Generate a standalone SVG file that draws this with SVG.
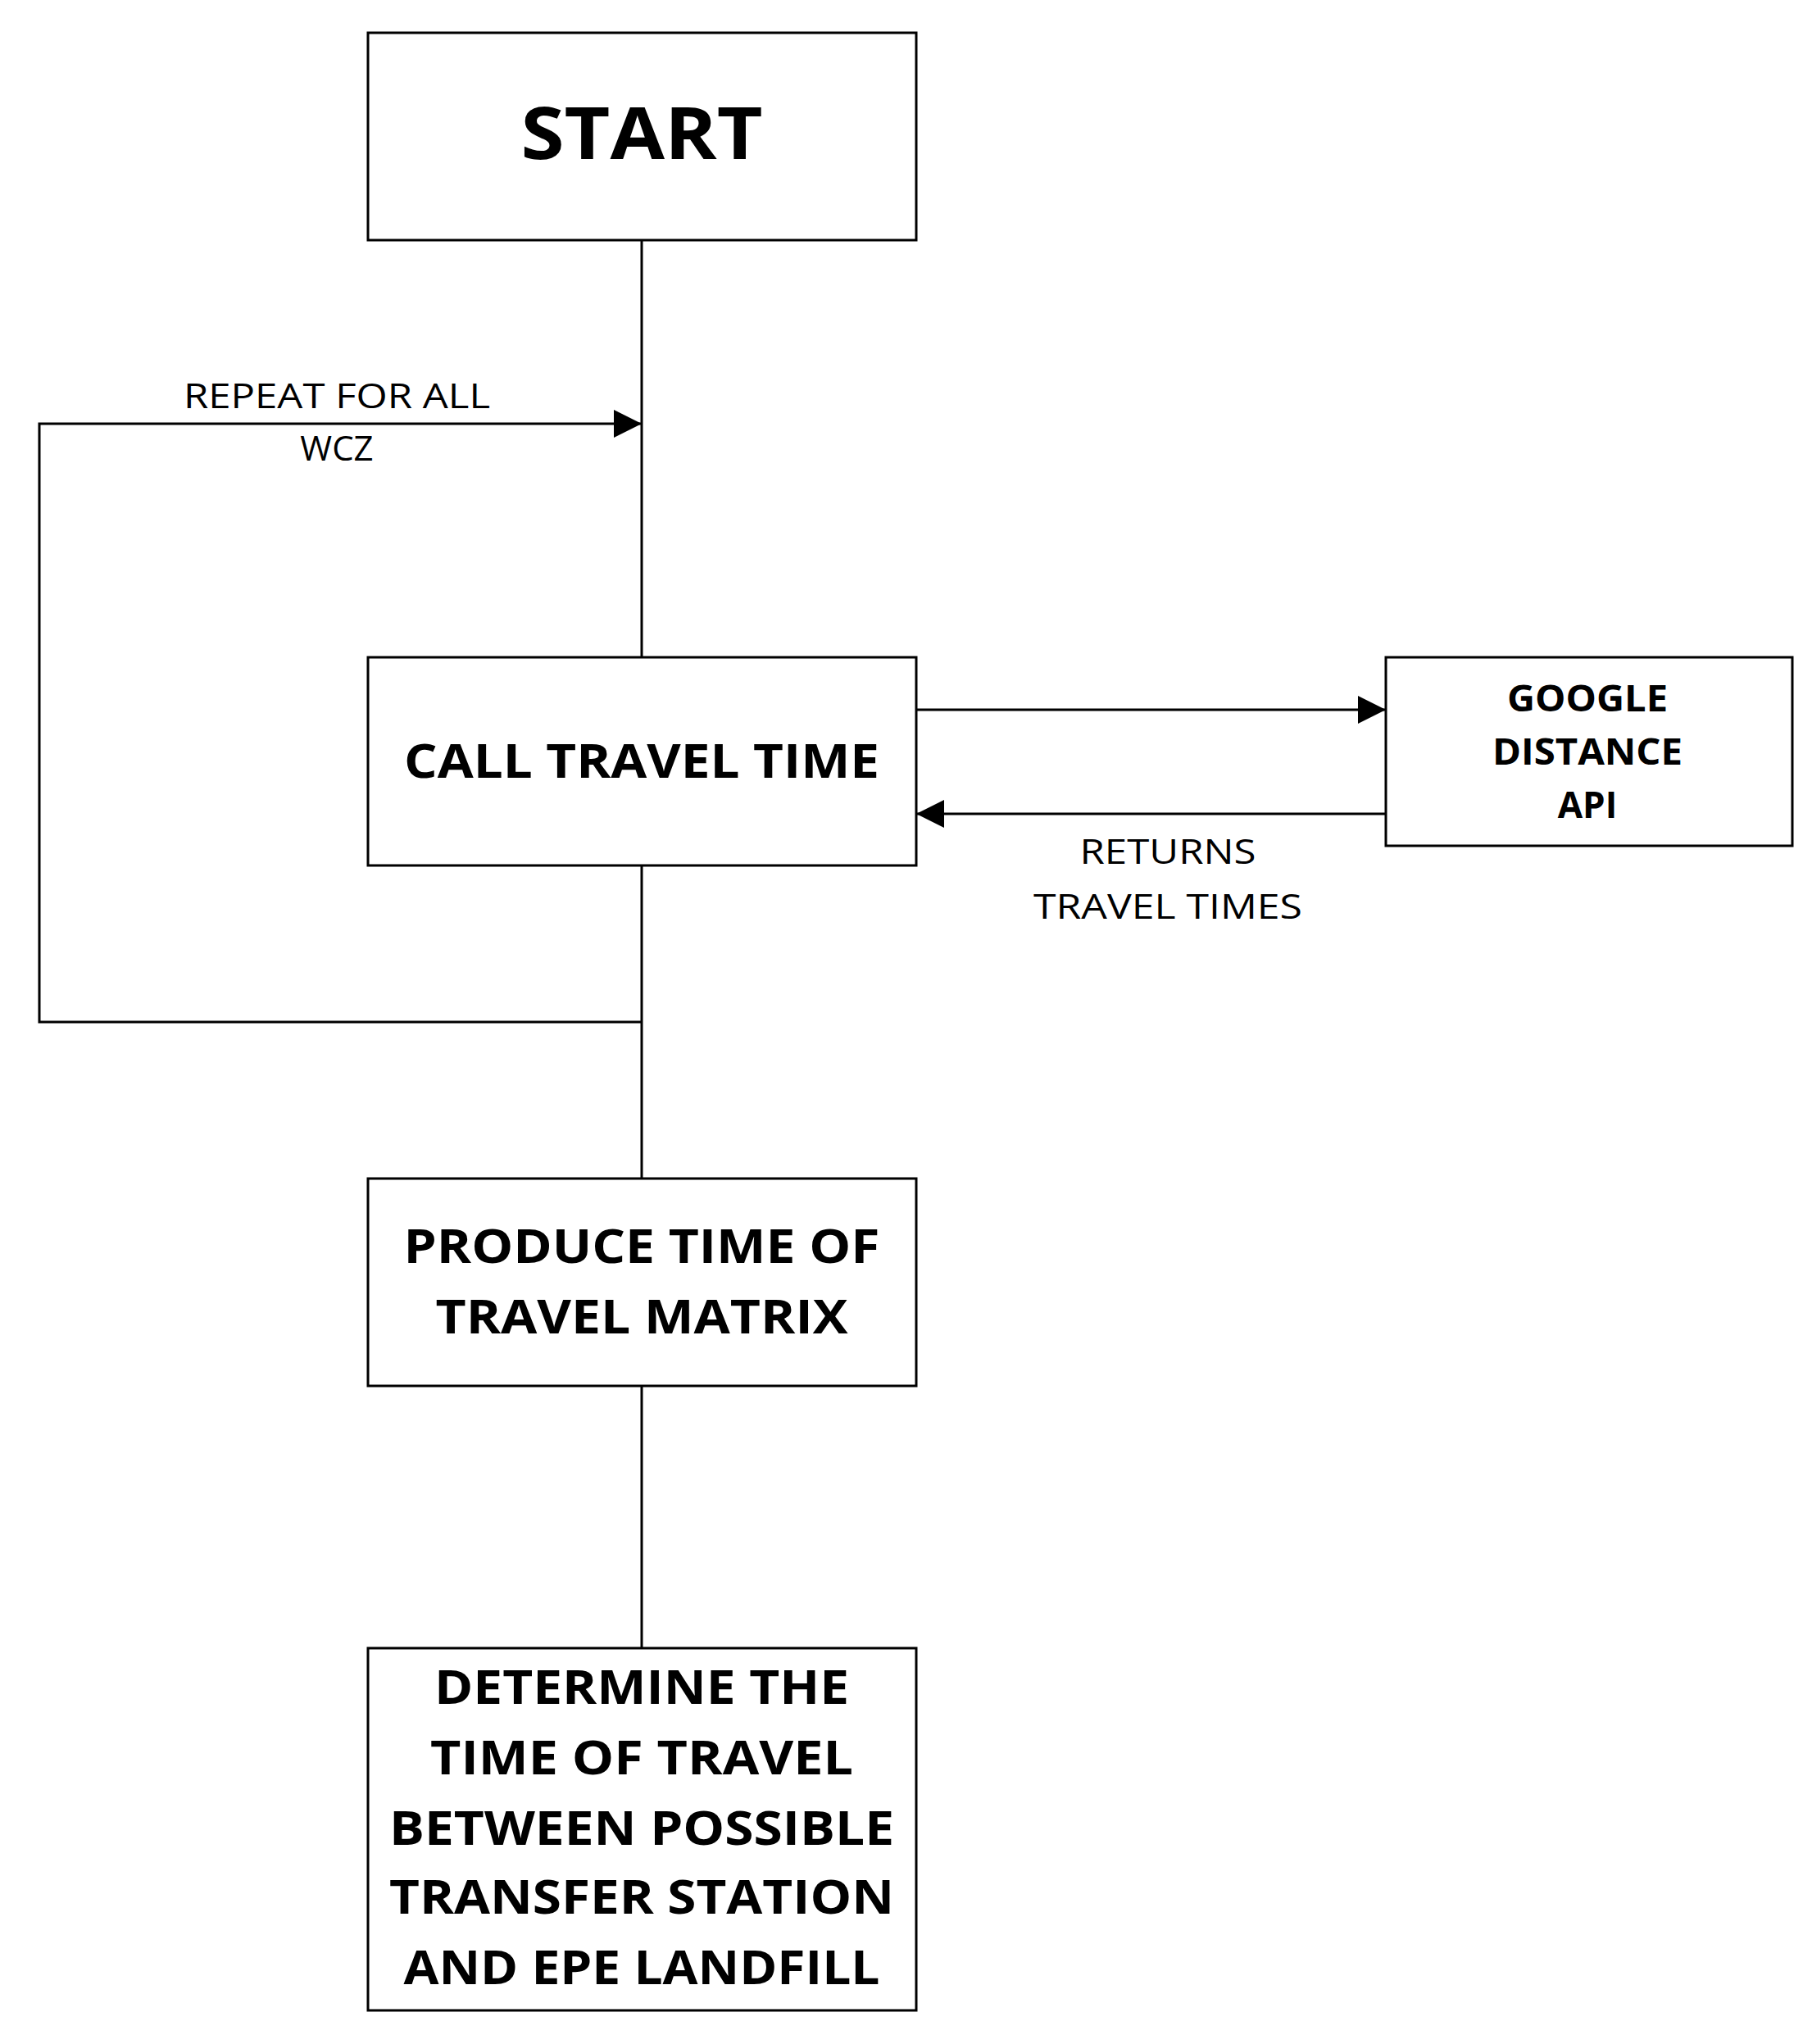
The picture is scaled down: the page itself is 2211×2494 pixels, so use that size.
<svg xmlns="http://www.w3.org/2000/svg" width="2211" height="2494" viewBox="0 0 2211 2494">
<style>
rect{fill:#fff;stroke:#000;stroke-width:3}
.c{fill:none;stroke:#000;stroke-width:3}
text{font-family:"Open Sans","Liberation Sans",sans-serif;text-anchor:middle;fill:#000}
.b{font-weight:bold}
.r{font-size:42px}
</style>
<defs><marker id="a" markerWidth="10" markerHeight="10" refX="9" refY="5" orient="auto" markerUnits="userSpaceOnUse" viewBox="0 0 10 10"><path d="M0,0L10,5L0,10z" fill="#000"/></marker>
<marker id="ah" viewBox="0 0 10 10" refX="10" refY="5" markerWidth="42" markerHeight="34" orient="auto" markerUnits="userSpaceOnUse"><path d="M0,0L10,5L0,10z" fill="#000"/></marker></defs>
<rect width="2211" height="2494" style="stroke:none"/>
<g id="connectors">
<path class="c" d="M783,293V802"/>
<path class="c" d="M783,1056V1438"/>
<path class="c" d="M783,1691V2011"/>
<path class="c" d="M783,1247H48V517H783" marker-end="url(#ah)"/>
<path class="c" d="M1118,866H1691" marker-end="url(#ah)"/>
<path class="c" d="M1691,993H1118" marker-end="url(#ah)"/>
<text class="r" x="411" y="498" textLength="374" lengthAdjust="spacingAndGlyphs">REPEAT FOR ALL</text>
<text class="r" x="411" y="562">WCZ</text>
<text class="r" x="1425" y="1054" textLength="215" lengthAdjust="spacingAndGlyphs">RETURNS</text>
<text class="r" x="1425" y="1121" textLength="328" lengthAdjust="spacingAndGlyphs">TRAVEL TIMES</text>
</g>
<g id="start"><rect x="449" y="40" width="669" height="253"/><text class="b" x="783" y="194" font-size="88" textLength="295" lengthAdjust="spacingAndGlyphs">START</text></g>
<g id="call"><rect x="449" y="802" width="669" height="254"/><text class="b" x="783" y="949" font-size="58" textLength="580" lengthAdjust="spacingAndGlyphs">CALL TRAVEL TIME</text></g>
<g id="google"><rect x="1691" y="802" width="496" height="230"/>
<text class="b" x="1937" y="868" font-size="44" textLength="196" lengthAdjust="spacingAndGlyphs">GOOGLE</text>
<text class="b" x="1937" y="933" font-size="44" textLength="232" lengthAdjust="spacingAndGlyphs">DISTANCE</text>
<text class="b" x="1937" y="998" font-size="44">API</text></g>
<g id="produce"><rect x="449" y="1438" width="669" height="253"/>
<text class="b" x="783" y="1541" font-size="58" textLength="581" lengthAdjust="spacingAndGlyphs">PRODUCE TIME OF</text>
<text class="b" x="783" y="1627" font-size="58" textLength="503" lengthAdjust="spacingAndGlyphs">TRAVEL MATRIX</text></g>
<g id="determine"><rect x="449" y="2011" width="669" height="442"/>
<text class="b" x="783" y="2079" font-size="58" textLength="506" lengthAdjust="spacingAndGlyphs">DETERMINE THE</text>
<text class="b" x="783" y="2165" font-size="58" textLength="516" lengthAdjust="spacingAndGlyphs">TIME OF TRAVEL</text>
<text class="b" x="783" y="2251" font-size="58" textLength="616" lengthAdjust="spacingAndGlyphs">BETWEEN POSSIBLE</text>
<text class="b" x="783" y="2335" font-size="58" textLength="616" lengthAdjust="spacingAndGlyphs">TRANSFER STATION</text>
<text class="b" x="783" y="2421" font-size="58" textLength="581" lengthAdjust="spacingAndGlyphs">AND EPE LANDFILL</text></g>
</svg>
